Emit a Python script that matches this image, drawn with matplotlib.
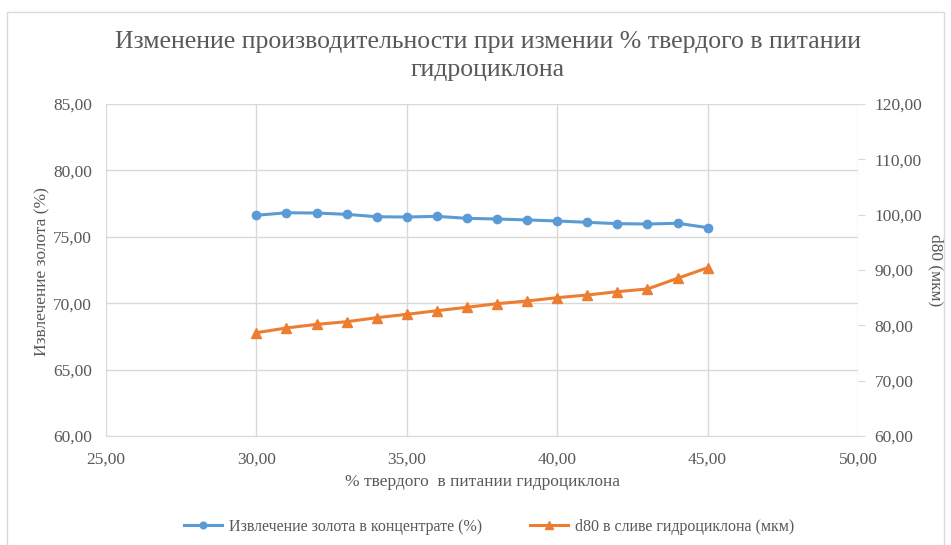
import numpy as np
import matplotlib.pyplot as plt
from matplotlib.patches import Rectangle

plt.rcParams["font.family"] = ["Liberation Serif", "DejaVu Serif"]

# % solids in hydrocyclone feed
solids = [30, 31, 32, 33, 34, 35, 36, 37, 38, 39, 40, 41, 42, 43, 44, 45]
# gold recovery to concentrate, %
recovery = [76.62, 76.81, 76.79, 76.69, 76.51, 76.49, 76.54, 76.39, 76.34, 76.27,
            76.19, 76.09, 75.99, 75.96, 76.02, 75.69]
# d80 of hydrocyclone overflow, um
d80 = [78.67, 79.52, 80.18, 80.65, 81.38, 81.99, 82.64, 83.26, 83.91, 84.40,
       85.00, 85.48, 86.08, 86.57, 88.50, 90.41]

x_ticks = [25, 30, 35, 40, 45, 50]
left_ticks = [60, 65, 70, 75, 80, 85]
right_ticks = [60, 70, 80, 90, 100, 110, 120]

BLUE = "#5B9BD5"
ORANGE = "#ED7D31"
TXT = "#595959"
GRID = "#D9D9D9"
FS = 12.5


def fmt(v):
    return f"{v:.2f}".replace(".", ",")


W, H = 951, 545
fig = plt.figure(figsize=(W / 100, H / 100), dpi=100)
ax = fig.add_axes([106 / W, 1 - 436 / H, (858 - 106) / W, (436 - 104) / H])

# chart area border
fig.patches.append(Rectangle((7 / W, -0.05), (944 - 7) / W, 1 - 12 / H + 0.05,
                             transform=fig.transFigure, fill=False,
                             edgecolor="#D9D9D9", linewidth=1))

ax.plot(solids, recovery, color=BLUE, lw=2.2, marker="o", ms=6,
        label="Извлечение золота в концентрате (%)", zorder=3)
ax.set_xlim(25, 50)
ax.set_ylim(60, 85)
ax.set_xticks(x_ticks)
ax.set_xticklabels([fmt(v) for v in x_ticks])
ax.set_yticks(left_ticks)
ax.set_yticklabels([fmt(v) for v in left_ticks])
ax.grid(True, color=GRID, lw=1)
ax.set_axisbelow(True)
for s in ax.spines.values():
    s.set_visible(False)
ax.spines["bottom"].set_visible(True)
ax.spines["bottom"].set_color(GRID)
ax.tick_params(axis="y", length=0, colors=TXT, labelsize=FS, pad=10)
ax.tick_params(axis="x", length=0, colors=TXT, labelsize=FS, pad=11)

ax2 = ax.twinx()
ax2.plot(solids, d80, color=ORANGE, lw=2.2, marker="^", ms=6.5,
         label="d80 в сливе гидроциклона (мкм)", zorder=3)
ax2.set_ylim(60, 120)
ax2.set_yticks(right_ticks)
ax2.set_yticklabels([fmt(v) for v in right_ticks])
for s in ax2.spines.values():
    s.set_visible(False)
ax2.tick_params(axis="y", length=5, color=GRID, labelcolor=TXT, labelsize=FS, pad=7)

# axis titles
fig.text(483 / W, 1 - 482 / H, "% твердого  в питании гидроциклона",
         ha="center", va="center", color=TXT, fontsize=FS)
fig.text(42 / W, 1 - 272 / H, "Извлечение золота (%)", rotation=90,
         ha="center", va="center", color=TXT, fontsize=FS)
fig.text(936 / W, 1 - 270 / H, "d80 (мкм)", rotation=270,
         ha="center", va="center", color=TXT, fontsize=FS)

fig.text(488 / W, 1 - 56 / H, "Изменение производительности при измении % твердого в питании\nгидроциклона",
         ha="center", va="center", color=TXT, fontsize=18.5, linespacing=1.35)

h1, l1 = ax.get_legend_handles_labels()
h2, l2 = ax2.get_legend_handles_labels()
fig.legend(h1 + h2, l1 + l2, loc="center", bbox_to_anchor=(489 / W, 1 - 527 / H),
           ncol=2, frameon=False, fontsize=11.5, labelcolor=TXT,
           handlelength=2.4, handletextpad=0.4, columnspacing=3, markerscale=0.8)

fig.savefig("out.png", dpi=100, facecolor="white")
